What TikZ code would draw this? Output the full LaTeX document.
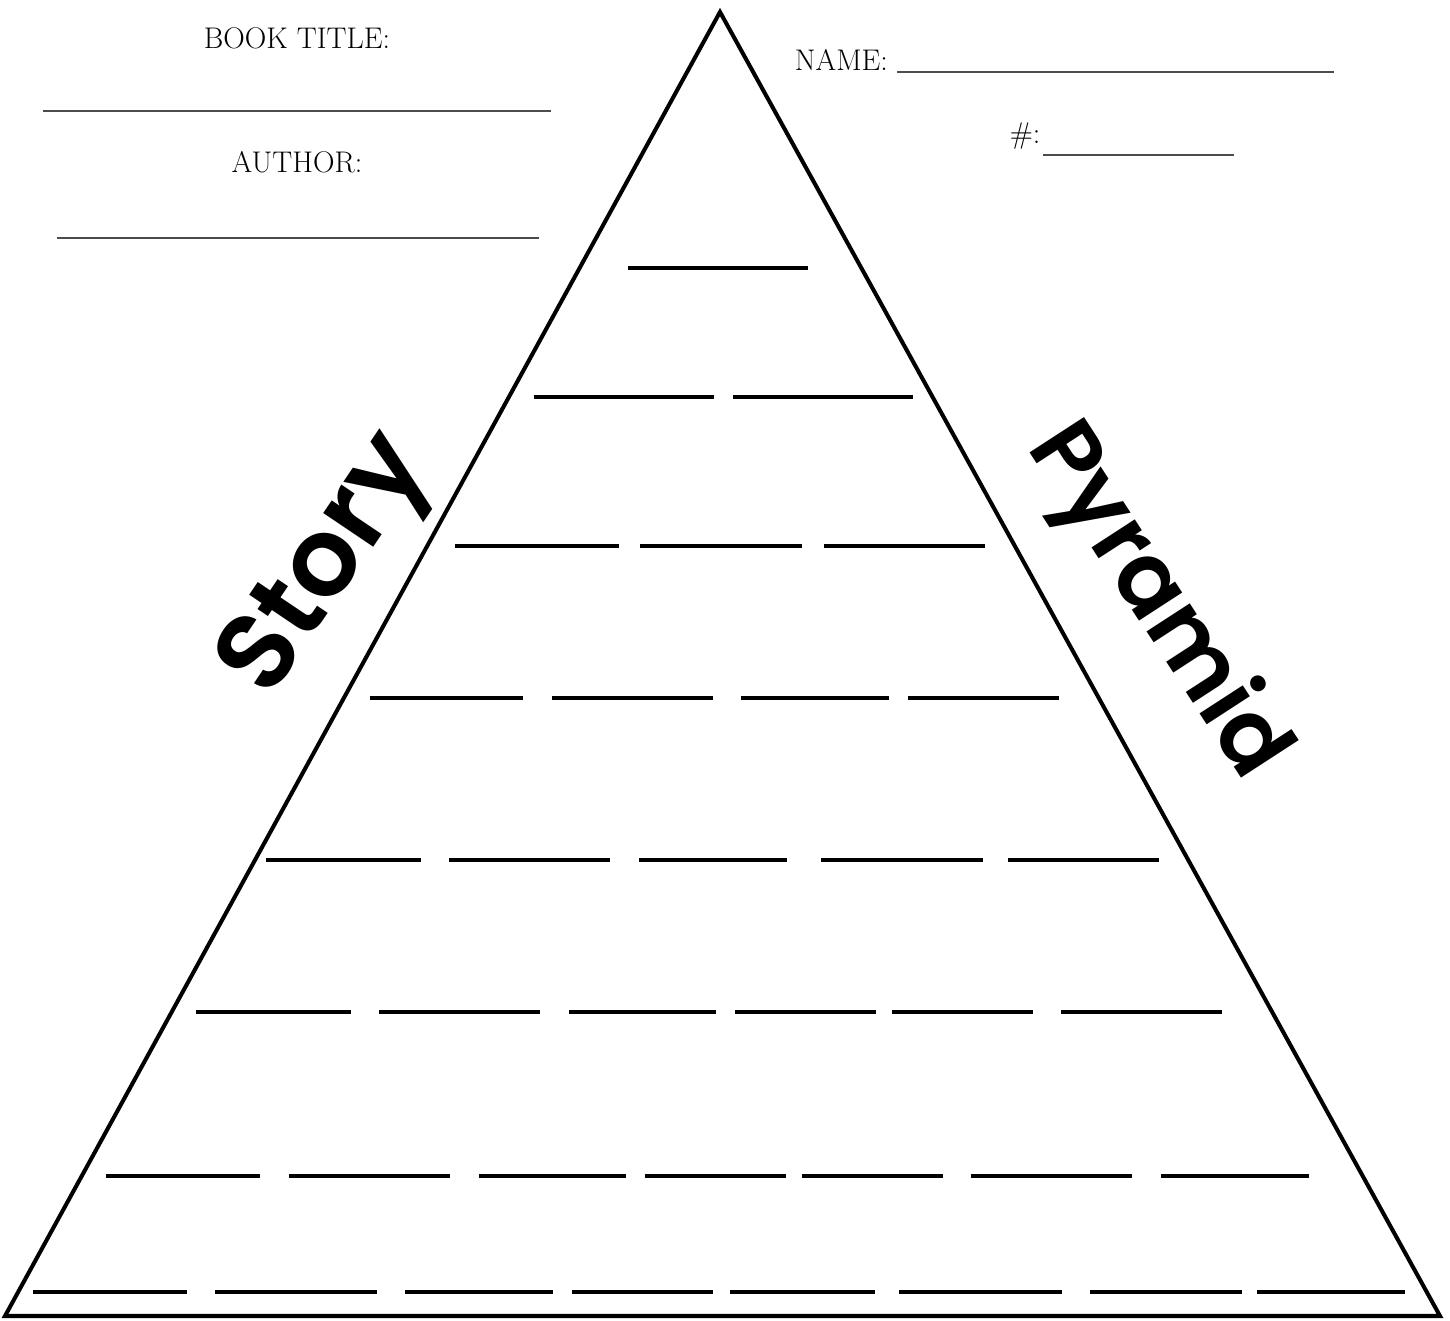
\documentclass[tikz,border=0pt]{standalone}
\usepackage{fontspec}
\usetikzlibrary{positioning}
\newfontfamily\pyrfont{Poppins}[UprightFont=* SemiBold]
\tikzset{
  headtext/.style={font=\fontsize{17}{17}\selectfont,inner sep=1pt},
  bigword/.style={font=\pyrfont\fontsize{#1}{#1}\selectfont,inner sep=0pt},
  fill in/.style={line width=0.8pt,black!70},
  blank/.style={line width=2.8pt}
}
\begin{document}
\begin{tikzpicture}[x=0.02cm,y=-0.02cm]
\useasboundingbox (0,0) rectangle (1450,1321);
% pyramid outline
\coordinate (top) at (720,12);
\coordinate (bl) at (5,1316);
\coordinate (br) at (1440,1316);
\draw[line width=2.3pt] (top) -- (bl) -- (br) -- cycle;
% header
\node[headtext] (booktitle) at (297,38) {BOOK TITLE:};
\draw[fill in] (43,111) -- (551,111);
\node[headtext] (author) at (297,162) {AUTHOR:};
\draw[fill in] (57,238) -- (539,238);
\node[headtext,anchor=east] (name) at (890,60) {NAME:};
\draw[fill in] (897,72) -- (1334,72);
\node[headtext] (num) at (1025,136) {\#:};
\draw[fill in] (1043,155) -- (1234,155);
% words
\node[bigword=62,rotate=56] (story) at (330,568) {Story};
\node[bigword=53,rotate=-57] (pyramid) at (1156,602) {Pyramid};
% blanks, row by row
\foreach \y/\segs in {268/{628/808},
  397/{534/714,733/913},
  546/{455/619,640/802,824/985},
  698/{370/523,552/713,741/889,908/1059},
  860/{266/421,449/610,639/787,821/983,1008/1159},
  1012/{196/351,379/540,569/716,735/876,892/1033,1061/1222},
  1176/{106/260,289/450,479/626,645/786,802/943,971/1132,1161/1309},
  1292/{33/187,215/377,405/553,572/713,730/875,899/1062,1090/1242,1257/1405}}
  \foreach \a/\b in \segs
    \draw[blank] (\a,\y) -- (\b,\y);
\end{tikzpicture}
\end{document}
